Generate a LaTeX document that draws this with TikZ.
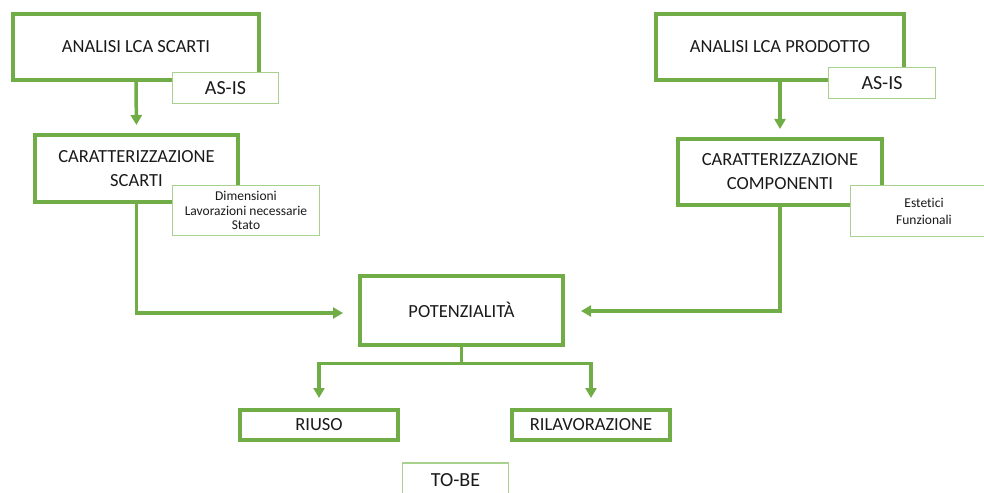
\documentclass[tikz,border=0pt]{standalone}
\usepackage{fontspec}
\setmainfont{Carlito}[Ligatures=NoCommon]
\usetikzlibrary{arrows.meta}
\definecolor{leaf}{HTML}{70AD47}
\definecolor{leaflight}{HTML}{A9D18E}
\definecolor{ink}{HTML}{1A1A1A}
\tikzset{
  mainbox/.style={draw=leaf, line width=4pt, fill=white, align=center, text=ink,
    inner sep=0pt, font=\fontsize{18.5}{24}\selectfont},
  tagbox/.style={draw=leaflight, line width=1.2pt, fill=white, align=center, text=ink,
    inner sep=0pt, font=\fontsize{20}{24}\selectfont},
  notebox/.style={draw=leaflight, line width=1.2pt, fill=white, align=center, text=ink,
    inner sep=0pt, font=\fontsize{13.5}{14.5}\selectfont},
  flow/.style={draw=leaf, line width=3.5pt,
    -{Triangle[width=11pt,length=10pt]}},
}
\begin{document}
\begin{tikzpicture}[x=1pt,y=-1pt]
\useasboundingbox (0,0) rectangle (984,492);
\begin{scope}
\clip (0,0) rectangle (984,492);

% left column: waste analysis
\node[mainbox, minimum width=246pt, minimum height=66pt] (lcaS) at (136,47) {ANALISI LCA SCARTI};
\node[tagbox, minimum width=106pt, minimum height=31pt] (asisS) at (225.5,88) {AS-IS};
\node[mainbox, minimum width=203pt, minimum height=67pt] (carS) at (136.5,168.5) {CARATTERIZZAZIONE\\SCARTI};
\node[notebox, minimum width=147pt, minimum height=50pt] (noteS) at (246,210.5) {Dimensioni\\Lavorazioni necessarie\\Stato};

% right column: product analysis
\node[mainbox, minimum width=248pt, minimum height=66pt] (lcaP) at (780,47) {ANALISI LCA PRODOTTO};
\node[tagbox, minimum width=107pt, minimum height=31pt] (asisP) at (882,83) {AS-IS};
\node[mainbox, minimum width=204pt, minimum height=66pt] (carP) at (780,172) {CARATTERIZZAZIONE\\COMPONENTI};
\node[notebox, font=\fontsize{13.5}{17}\selectfont, minimum width=147pt, minimum height=51pt] (noteP) at (924,211) {Estetici\\Funzionali};

% centre: potential and outcomes
\node[mainbox, minimum width=203pt, minimum height=69pt] (pot) at (461.5,310) {POTENZIALITÀ};
\node[mainbox, minimum width=158pt, minimum height=30pt] (riuso) at (319,425) {RIUSO};
\node[mainbox, minimum width=158pt, minimum height=30pt] (rilav) at (591,425) {RILAVORAZIONE};
\node[tagbox, minimum width=106pt, minimum height=34pt] (tobe) at (455.5,480) {TO-BE};

% connectors
\coordinate (fork) at ([yshift=-17pt]pot.south);
\draw[flow, shorten >=8pt] (lcaS.south) -- (carS.north);
\draw[flow, shorten >=8pt] (lcaP.south) -- (carP.north);
\draw[flow, shorten >=15pt] (carS.south) |- ([yshift=-3pt]pot.west);
\draw[flow, shorten >=16pt] (carP.south) |- ([yshift=-1pt]pot.east);
\draw[flow, shorten >=10pt] (pot.south) -- (fork) -| (riuso.north);
\draw[flow, shorten >=10pt] (fork) -| (rilav.north);

% label boxes sit over the main boxes
\node[tagbox, minimum width=106pt, minimum height=31pt] at (asisS) {AS-IS};
\node[tagbox, minimum width=107pt, minimum height=31pt] at (asisP) {AS-IS};
\end{scope}
\end{tikzpicture}
\end{document}
